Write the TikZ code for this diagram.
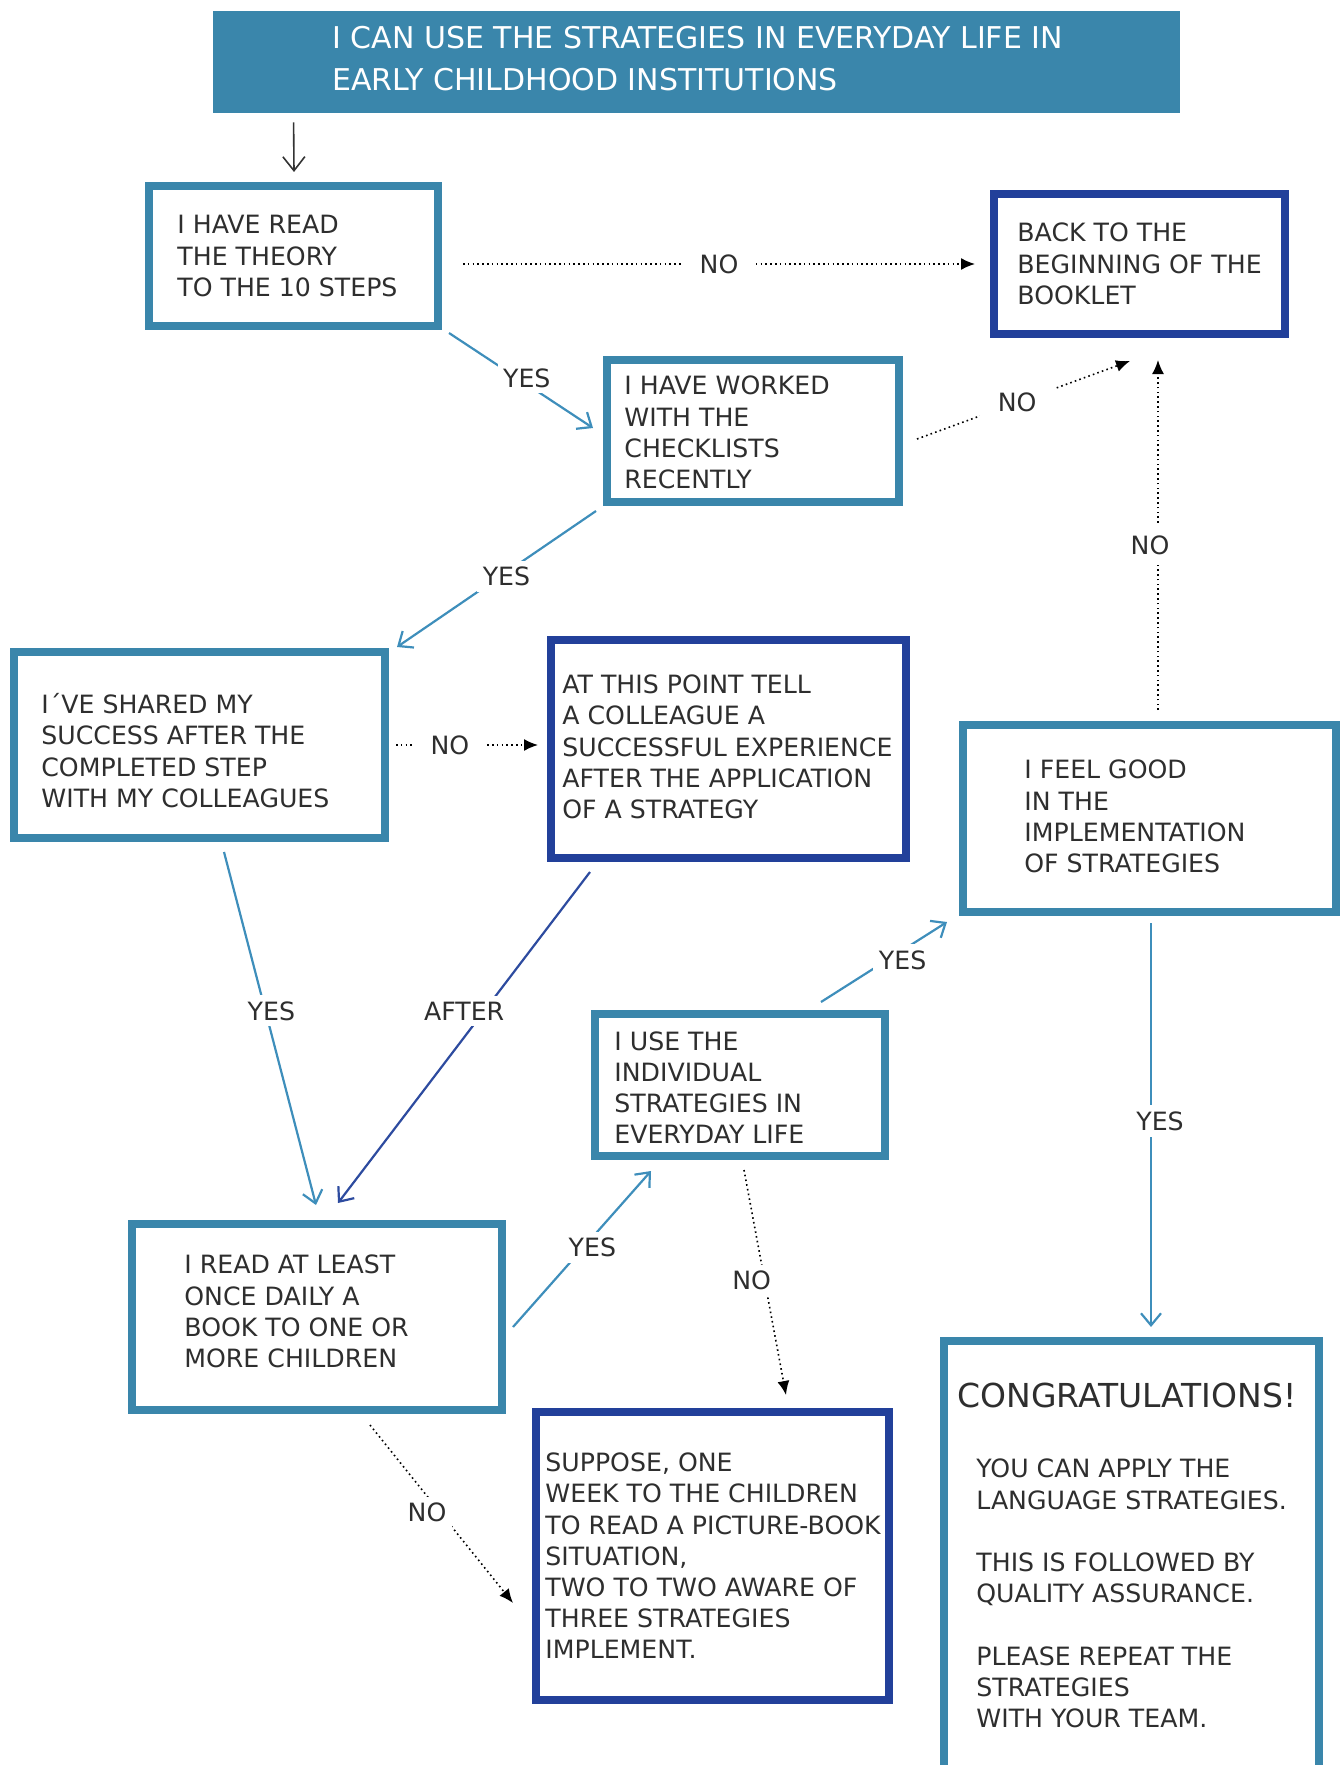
\documentclass[tikz,border=0pt]{standalone}
\usepackage{fontspec}
\setmainfont{DejaVu Sans}
\usetikzlibrary{arrows.meta,calc}
\definecolor{boxblue}{HTML}{3A86AB}
\definecolor{darkblue}{HTML}{22409A}
\definecolor{lineblue}{HTML}{3E8EBB}
\definecolor{afterblue}{HTML}{2D4B9F}
\definecolor{txt}{HTML}{2E2E2E}
\begin{document}
\begin{tikzpicture}[x=0.5pt,y=-0.5pt,
  frame/.style={draw=boxblue,line width=4pt,fill=white,inner sep=0pt},
  dframe/.style={frame,draw=darkblue},
  btxt/.style={anchor=west,align=left,inner sep=0pt,text=txt,font=\fontsize{12.6}{15.6}\selectfont},
  lab/.style={fill=white,inner sep=3pt,text=txt,font=\fontsize{12.6}{15.6}\selectfont},
  yesline/.style={draw=lineblue,line width=1.1pt,-{Straight Barb[length=6pt,width=10pt]}},
  afterline/.style={draw=afterblue,line width=1.1pt,-{Straight Barb[length=6pt,width=10pt]}},
  noline/.style={draw=black,line width=0.8pt,dash pattern=on 0.8pt off 1.6pt,-{Latex[length=7pt,width=6pt]}},
  startarrow/.style={draw=black!80,line width=0.8pt,-{Straight Barb[length=7pt,width=11pt]}},
]
\useasboundingbox (0,0) rectangle (1340,1765);
\clip (0,0) rectangle (1340,1765);

% banner
\node[fill=boxblue,inner sep=0pt,minimum width=483.5pt,minimum height=51pt] (banner) at (696.5,62) {};
\node[btxt,text=white,font=\fontsize{15}{21}\selectfont] (bannert) at (332,59)
  {I CAN USE THE STRATEGIES IN EVERYDAY LIFE IN\\EARLY CHILDHOOD INSTITUTIONS};

% boxes
\node[frame,minimum width=144.5pt,minimum height=70pt] (a) at (293.5,256) {};
\node[btxt] (at) at (177,256) {I HAVE READ\\THE THEORY\\TO THE 10 STEPS};

\node[dframe,minimum width=145.5pt,minimum height=70pt] (b) at (1139.5,264) {};
\node[btxt] (bt) at (1017,264) {BACK TO THE\\BEGINNING OF THE\\BOOKLET};

\node[frame,minimum width=146pt,minimum height=71pt] (c) at (753,431) {};
\node[btxt] (ct) at (624,432.5) {I HAVE WORKED\\WITH THE\\CHECKLISTS\\RECENTLY};

\node[frame,minimum width=185.5pt,minimum height=93pt] (d) at (199.5,745) {};
\node[btxt] (dt) at (41,750.5) {I´VE SHARED MY\\SUCCESS AFTER THE\\COMPLETED STEP\\WITH MY COLLEAGUES};

\node[dframe,minimum width=177.5pt,minimum height=109pt] (e) at (728.5,749) {};
\node[btxt] (et) at (562,747) {AT THIS POINT TELL\\A COLLEAGUE A\\SUCCESSFUL EXPERIENCE\\AFTER THE APPLICATION\\OF A STRATEGY};

\node[frame,minimum width=186.5pt,minimum height=93.5pt] (f) at (1149.5,818.5) {};
\node[btxt] (ft) at (1024,816.5) {I FEEL GOOD\\IN THE\\IMPLEMENTATION\\OF STRATEGIES};

\node[frame,minimum width=145pt,minimum height=71pt] (g) at (740,1085) {};
\node[btxt] (gt) at (614,1087.5) {I USE THE\\INDIVIDUAL\\STRATEGIES IN\\EVERYDAY LIFE};

\node[frame,minimum width=185pt,minimum height=93pt] (h) at (317,1317) {};
\node[btxt] (ht) at (184,1311.5) {I READ AT LEAST\\ONCE DAILY A\\BOOK TO ONE OR\\MORE CHILDREN};

\node[dframe,minimum width=176.5pt,minimum height=144pt] (i) at (712.5,1556) {};
\node[btxt] (it) at (545,1556) {SUPPOSE, ONE\\WEEK TO THE CHILDREN\\TO READ A PICTURE-BOOK\\SITUATION,\\TWO TO TWO AWARE OF\\THREE STRATEGIES\\IMPLEMENT.};

\node[frame,minimum width=187.5pt,minimum height=239pt] (j) at (1131.5,1580) {};
\node[btxt,font=\fontsize{16.5}{20}\selectfont] (jh) at (957,1395) {CONGRATULATIONS!};
\node[btxt] (jt) at (976,1593.5) {YOU CAN APPLY THE\\LANGUAGE STRATEGIES.\\[15.6pt]THIS IS FOLLOWED BY\\QUALITY ASSURANCE.\\[15.6pt]PLEASE REPEAT THE\\STRATEGIES\\WITH YOUR TEAM.};

% connectors
\draw[startarrow] ($(banner.south west)+(81,9)$) -- ($(a.north west)+(149,-10)$);

\draw[noline] ($(a.east)+(21,8)$) -- node[lab,inner xsep=9pt,pos=0.5]{NO} ($(b.west)+(-15,0)$);
\draw[yesline] ($(a.south east)+(7,3)$) -- node[lab,inner sep=2.5pt,pos=0.54,yshift=3pt]{YES} ($(c.west)+(-10,-3)$);
\draw[noline] ($(c.east)+(14,8)$) -- node[lab,inner xsep=9pt,pos=0.47]{NO} ($(b.south)+(-9.5,23)$);
\draw[noline] ($(f.north)+(8.5,-11)$) -- node[lab,inner ysep=5pt,pos=0.47,xshift=-4pt]{NO} ($(b.south)+(18.5,22)$);
\draw[yesline] ($(c.south west)+(-7,5)$) -- node[lab,pos=0.45,yshift=-2pt]{YES} ($(d.north east)+(8,-1)$);
\draw[noline] ($(d.east)+(7,0)$) -- node[lab,inner xsep=8pt,pos=0.38]{NO} ($(e.west)+(-9,-4)$);
\draw[yesline] ($(d.south)+(24.5,10)$) -- node[lab,pos=0.45,xshift=3pt]{YES} ($(h.north)+(-1,-15)$);
\draw[afterline] ($(e.south)+(-138.5,10)$) -- node[lab,pos=0.42,xshift=-10pt]{AFTER} ($(h.north)+(21,-17)$);
\draw[yesline] ($(h.east)+(7,10)$) -- node[lab,pos=0.51,xshift=4.5pt]{YES} ($(g.south west)+(60,11)$);
\draw[yesline] ($(g.north east)+(-68,-8)$) -- node[lab,pos=0.6,xshift=3pt,yshift=-3pt]{YES} ($(f.south west)+(-12,6)$);
\draw[noline] ($(g.south)+(4,10)$) -- node[lab,pos=0.49,xshift=-6.5pt]{NO} ($(i.north)+(73.5,-13)$);
\draw[yesline] ($(f.south)+(1.5,7)$) -- node[lab,pos=0.49,xshift=4.5pt]{YES} ($(j.north)+(19.5,-10)$);
\draw[noline] ($(h.south)+(53,11)$) -- node[lab,pos=0.49,xshift=-6.5pt]{NO} ($(i.west)+(-19,47)$);
\end{tikzpicture}
\end{document}
